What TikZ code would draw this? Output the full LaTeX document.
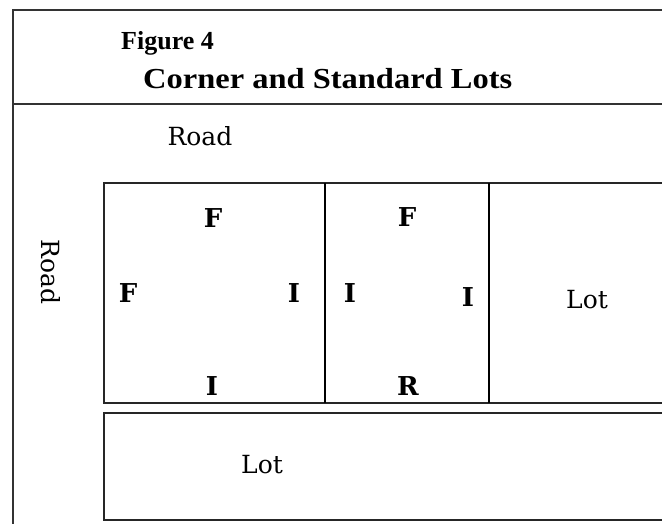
\documentclass[tikz,border=0pt]{standalone}
\usepackage{fontspec}
\setmainfont{Liberation Serif}
\newfontfamily\slabfont{DejaVu Serif}
\begin{document}
\begin{tikzpicture}[x=1pt,y=-1pt,
  frameline/.style={draw=black!80,line width=1.9pt},
  lotline/.style={draw=black!85,line width=1.9pt},
  divline/.style={draw=black,line width=2.8pt},
  side/.style={font=\slabfont\bfseries\fontsize{26}{26}\selectfont,inner sep=0pt},
  plain/.style={font=\slabfont\fontsize{25}{25}\selectfont,inner sep=0pt},
  titletxt/.style={font=\bfseries\fontsize{29}{29}\selectfont,inner sep=0pt,anchor=base west}]
\useasboundingbox (0,0) rectangle (662,523);
\clip (0,0) rectangle (662,523);
\fill[white] (0,0) rectangle (662,523);
% outer frame
\draw[frameline] (700,10) -- (13,10) -- (13,540);
\draw[frameline] (13,104) -- (700,104);
% lots
\draw[lotline] (700,183) -- (104,183) -- (104,403) -- (700,403);
\draw[divline] (325,183) -- (325,403);
\draw[divline] (489,183) -- (489,403);
\draw[lotline] (700,413) -- (104,413) -- (104,520) -- (700,520);
% titles
\node[titletxt,font=\bfseries\fontsize{26}{26}\selectfont] (fig) at (121,49) {Figure 4};
\node[titletxt] (ttl) at (143,88) {\scalebox{1.12}[1]{Corner and Standard Lots}};
% roads
\node[plain] (roadtop) at (200,136) {Road};
\node[plain,rotate=-90] (roadleft) at (51,272) {Road};
% corner lot
\node[side] (c1f) at (213,218) {F};
\node[side] (c1l) at (128,293) {F};
\node[side] (c1r) at (294,293) {I};
\node[side] (c1b) at (212,386) {I};
% standard lot
\node[side] (s1f) at (407,217) {F};
\node[side] (s1l) at (350,293) {I};
\node[side] (s1r) at (468,297) {I};
\node[side] (s1b) at (408,386) {R};
% other lots
\node[plain] (lot1) at (587,300) {Lot};
\node[plain] (lot2) at (262,465) {Lot};
\end{tikzpicture}
\end{document}
